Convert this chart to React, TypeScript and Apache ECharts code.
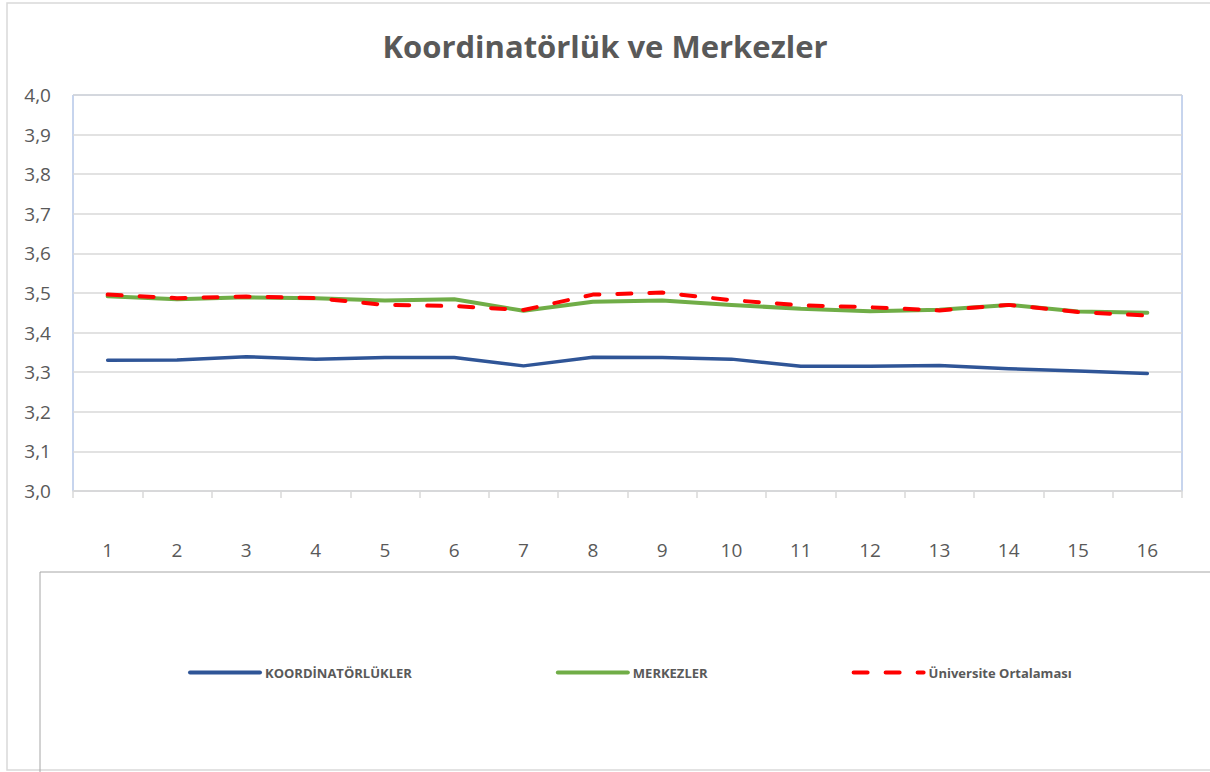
import React, { useEffect, useRef } from "react";
import * as echarts from "echarts";

const categories = ["1", "2", "3", "4", "5", "6", "7", "8", "9", "10", "11", "12", "13", "14", "15", "16"];
const koordinatorlukler = [3.330, 3.331, 3.339, 3.333, 3.337, 3.337, 3.316, 3.338, 3.337, 3.333, 3.315, 3.315, 3.317, 3.309, 3.303, 3.297];
const merkezler = [3.492, 3.484, 3.489, 3.487, 3.481, 3.484, 3.455, 3.478, 3.481, 3.470, 3.460, 3.454, 3.458, 3.470, 3.453, 3.450];
const universite = [3.496, 3.487, 3.491, 3.487, 3.470, 3.467, 3.457, 3.496, 3.501, 3.482, 3.469, 3.464, 3.456, 3.470, 3.452, 3.443];
const seriesNames = ["KOORDİNATÖRLÜKLER", "MERKEZLER", "Üniversite Ortalaması"];
const titleText = "Koordinatörlük ve Merkezler";

const FONT = "'Open Sans', 'DejaVu Sans', sans-serif";
const GRAY_TEXT = "#595959";

export default function App() {
  const ref = useRef<HTMLDivElement>(null);
  useEffect(() => {
    document.body.style.margin = "0";
    if (!ref.current) return;
    const chart = echarts.init(ref.current, undefined, { renderer: "svg" });
    chart.setOption({
      animation: false,
      backgroundColor: "#ffffff",
      title: {
        text: titleText,
        left: "center",
        top: 25,
        textStyle: { fontFamily: FONT, fontSize: 31, fontWeight: "bold", color: GRAY_TEXT },
      },
      graphic: [
        {
          type: "rect",
          shape: { x: 7, y: 3, width: 1215, height: 767 },
          style: { fill: "none", stroke: "#D9D9D9", lineWidth: 1.5 },
          silent: true,
          z: -10,
        },
        {
          type: "rect",
          shape: { x: 40, y: 572, width: 1200, height: 230 },
          style: { fill: "none", stroke: "#A6A6A6", lineWidth: 1 },
          silent: true,
          z: -10,
        },
      ],
      legend: {
        data: seriesNames,
        left: 183,
        top: 661,
        itemWidth: 70,
        itemHeight: 14,
        itemGap: 144,
        itemStyle: { opacity: 0 },
        lineStyle: { width: 4, cap: "round" },
        textStyle: { fontFamily: FONT, fontSize: 13, fontWeight: "bold", color: GRAY_TEXT },
      },
      grid: {
        left: 73,
        right: 28,
        top: 95,
        bottom: 281,
        show: true,
        borderColor: "#8FAADC",
        borderWidth: 1,
        backgroundColor: "transparent",
      },
      xAxis: {
        type: "category",
        data: categories,
        boundaryGap: true,
        axisLine: { show: true, lineStyle: { color: "#D9D9D9", width: 1.5 } },
        axisTick: { show: true, length: 7, lineStyle: { color: "#D9D9D9", width: 1.5 } },
        axisLabel: { fontFamily: FONT, fontSize: 19, color: GRAY_TEXT, margin: 49 },
      },
      yAxis: {
        type: "value",
        min: 3,
        max: 4,
        interval: 0.1,
        axisLine: { show: false },
        axisTick: { show: false },
        splitLine: { show: true, lineStyle: { color: "#D9D9D9", width: 1.5 } },
        axisLabel: {
          fontFamily: FONT,
          fontSize: 19,
          color: GRAY_TEXT,
          margin: 22,
          formatter: (v: number) => v.toFixed(1).replace(".", ","),
        },
      },
      series: [
        {
          name: seriesNames[0],
          type: "line",
          data: koordinatorlukler,
          symbol: "none",
          lineStyle: { color: "#2F5597", width: 3.5, cap: "round", join: "round" },
          itemStyle: { color: "#2F5597" },
          z: 3,
        },
        {
          name: seriesNames[1],
          type: "line",
          data: merkezler,
          symbol: "none",
          lineStyle: { color: "#70AD47", width: 4, cap: "round", join: "round" },
          itemStyle: { color: "#70AD47" },
          z: 3,
        },
        {
          name: seriesNames[2],
          type: "line",
          data: universite,
          symbol: "none",
          lineStyle: { color: "#FF0000", width: 4, type: [14, 18], cap: "round", join: "round" },
          itemStyle: { color: "#FF0000" },
          z: 4,
        },
      ],
    });
    return () => chart.dispose();
  }, []);
  return <div ref={ref} style={{ width: 1210, height: 772 }} />;
}
